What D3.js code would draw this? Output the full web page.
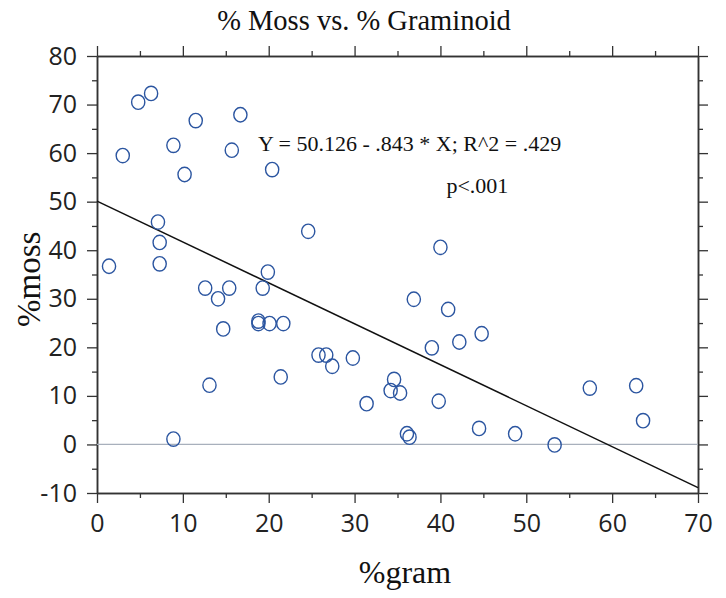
<!DOCTYPE html>
<html>
<head>
<meta charset="utf-8">
<script src="https://cdn.jsdelivr.net/npm/d3@7"></script>
<style>
  body { margin: 0; background: #fff; }
  .tick text { font-family: "Open Sans", sans-serif; }
</style>
</head>
<body>
<script>
// % graminoid (x) and % moss (y) for each plot
var gram = [1.4, 3.0, 4.8, 6.3, 7.1, 7.3, 7.3, 8.9, 8.9, 10.2, 11.5, 12.6, 13.1, 14.1, 14.7, 15.4,
            15.7, 16.7, 18.8, 18.8, 19.3, 19.9, 20.1, 20.4, 21.4, 21.7, 24.6, 25.8, 26.7, 27.4, 29.8,
            31.4, 34.2, 34.6, 35.3, 36.1, 36.4, 36.9, 39.0, 39.8, 40.0, 40.9, 42.2, 44.5, 44.8, 48.7,
            53.3, 57.4, 62.8, 63.6];
var moss = [36.7, 59.5, 70.5, 72.3, 45.8, 41.6, 37.2, 61.6, 1.1, 55.6, 66.7, 32.2, 12.2, 30.0, 23.8, 32.2,
            60.6, 67.9, 25.4, 24.9, 32.2, 35.5, 24.9, 56.6, 13.9, 24.9, 43.9, 18.4, 18.4, 16.1, 17.8,
            8.4, 11.1, 13.4, 10.6, 2.2, 1.5, 29.9, 19.9, 8.9, 40.6, 27.8, 21.1, 3.3, 22.8, 2.2,
            -0.1, 11.6, 12.1, 4.9];
var intercept = 50.126, slope = -0.843;
var xTicks = [0, 10, 20, 30, 40, 50, 60, 70];
var yTicks = [-10, 0, 10, 20, 30, 40, 50, 60, 70, 80];

var data = gram.map(function(g, i){ return {gram: g, moss: moss[i]}; });

var W = 726, H = 598;
var margin = {left: 97, top: 56, right: 28, bottom: 105};
var width = W - margin.left - margin.right,
    height = H - margin.top - margin.bottom;

var x = d3.scaleLinear().domain([0, 70]).range([0, width]);
var y = d3.scaleLinear().domain([-10, 80]).range([height, 0]);

var svg = d3.select('body').append('svg').attr('width', W).attr('height', H);
var g = svg.append('g').attr('transform', 'translate(' + margin.left + ',' + margin.top + ')');

var minorX = d3.range(5, 70, 10), minorY = d3.range(-5, 80, 10);
var plain = function(d){ return String(d); };

function styleAxis(sel) {
  sel.selectAll('path.domain').attr('stroke', '#333').attr('stroke-width', 1.5);
  sel.selectAll('.tick line').attr('stroke', '#333').attr('stroke-width', 1.3);
}

// bottom
g.append('g').attr('transform', 'translate(0,' + height + ')')
  .call(d3.axisBottom(x).tickValues(xTicks).tickFormat(plain).tickSize(10).tickPadding(11).tickSizeOuter(0))
  .call(styleAxis)
  .selectAll('text').attr('font-size', 25).attr('fill', '#222');
g.append('g').attr('transform', 'translate(0,' + height + ')')
  .call(d3.axisBottom(x).tickValues(minorX).tickSize(5).tickFormat('').tickSizeOuter(0))
  .call(styleAxis);
// top
g.append('g')
  .call(d3.axisTop(x).tickValues(xTicks).tickSize(10).tickFormat('').tickSizeOuter(0))
  .call(styleAxis);
g.append('g')
  .call(d3.axisTop(x).tickValues(minorX).tickSize(5).tickFormat('').tickSizeOuter(0))
  .call(styleAxis);
// left
g.append('g')
  .call(d3.axisLeft(y).tickValues(yTicks).tickFormat(plain).tickSize(10).tickPadding(10).tickSizeOuter(0))
  .call(styleAxis)
  .selectAll('text').attr('font-size', 25).attr('fill', '#222');
g.append('g')
  .call(d3.axisLeft(y).tickValues(minorY).tickSize(5).tickFormat('').tickSizeOuter(0))
  .call(styleAxis);
// right
g.append('g').attr('transform', 'translate(' + width + ',0)')
  .call(d3.axisRight(y).tickValues(yTicks).tickSize(10).tickFormat('').tickSizeOuter(0))
  .call(styleAxis);
g.append('g').attr('transform', 'translate(' + width + ',0)')
  .call(d3.axisRight(y).tickValues(minorY).tickSize(5).tickFormat('').tickSizeOuter(0))
  .call(styleAxis);

// zero reference line
g.append('line')
  .attr('x1', 0).attr('x2', width)
  .attr('y1', y(0)).attr('y2', y(0))
  .attr('stroke', '#a8b0bc').attr('stroke-width', 1.2);

// regression line
var line = d3.line()
  .x(function(d){ return x(d); })
  .y(function(d){ return y(intercept + slope * d); });
g.append('path').attr('d', line([0, 70]))
  .attr('fill', 'none').attr('stroke', '#111').attr('stroke-width', 1.5);

// points
g.selectAll('ellipse.pt').data(data).enter().append('ellipse')
  .attr('class', 'pt')
  .attr('cx', function(d){ return x(d.gram); })
  .attr('cy', function(d){ return y(d.moss); })
  .attr('rx', 6.6).attr('ry', 7.2)
  .attr('fill', 'none').attr('stroke', '#2b55a0').attr('stroke-width', 1.4);

// text
svg.append('text').attr('x', 364).attr('y', 30).attr('text-anchor', 'middle')
  .attr('font-family', 'Liberation Serif, serif').attr('font-size', 28.5).attr('fill', '#111')
  .text('% Moss vs. % Graminoid');

g.append('text').attr('x', x(18.75)).attr('y', y(62)).attr('dy', '0.35em')
  .attr('font-family', 'Liberation Serif, serif').attr('font-size', 22).attr('fill', '#111')
  .text('Y = 50.126 - .843 * X; R^2 = .429');
g.append('text').attr('x', x(44.3)).attr('y', y(53.4)).attr('text-anchor', 'middle').attr('dy', '0.35em')
  .attr('font-family', 'Liberation Serif, serif').attr('font-size', 22).attr('fill', '#111')
  .text('p<.001');

svg.append('text').attr('x', 405).attr('y', 583).attr('text-anchor', 'middle')
  .attr('font-family', 'Liberation Serif, serif').attr('font-size', 32).attr('fill', '#111')
  .text('%gram');
svg.append('text').attr('transform', 'translate(40,' + (margin.top + y(34)) + ') rotate(-90)')
  .attr('text-anchor', 'middle')
  .attr('font-family', 'Liberation Serif, serif').attr('font-size', 33).attr('fill', '#111')
  .text('%moss');
</script>
</body>
</html>
